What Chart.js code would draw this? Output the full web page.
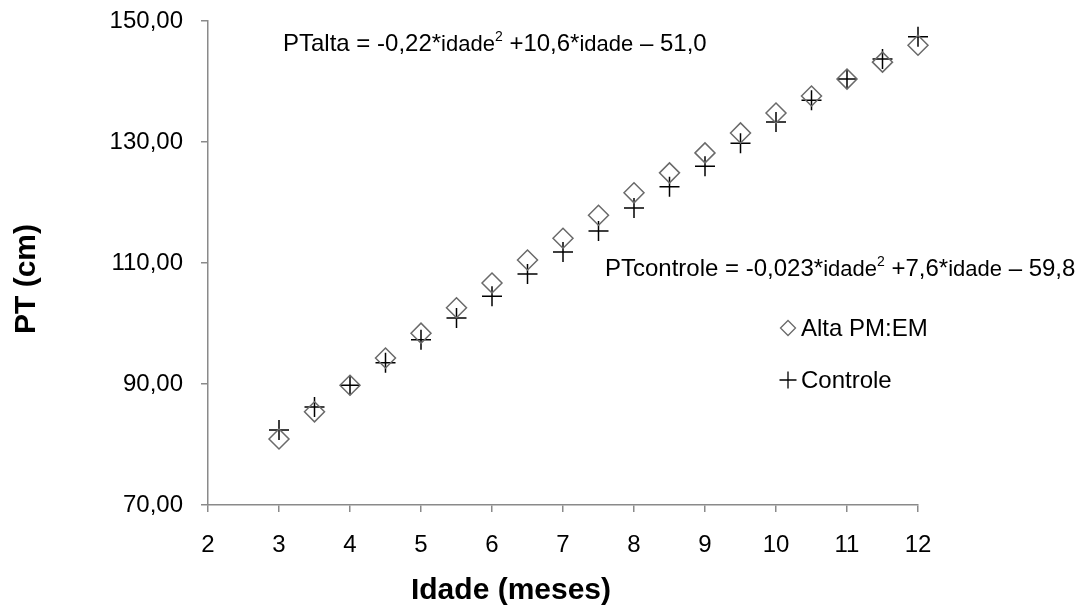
<!DOCTYPE html>
<html>
<head>
<meta charset="utf-8">
<script src="https://cdn.jsdelivr.net/npm/chart.js@4"></script>
<style>
  html, body { margin: 0; padding: 0; background: #fff; }
  #wrap { width: 1088px; height: 614px; }
</style>
</head>
<body>
<div id="wrap"><canvas id="chart" width="1088" height="614"></canvas></div>
<script>
// Idade (meses) e perímetro torácico (cm) por grupo
const IDADES = [3, 3.5, 4, 4.5, 5, 5.5, 6, 6.5, 7, 7.5, 8, 8.5, 9, 9.5, 10, 10.5, 11, 11.5, 12];
const PT_ALTA = [80.9, 85.4, 89.8, 94.3, 98.4, 102.6, 106.7, 110.5, 114.1, 117.9, 121.6, 124.9, 128.2, 131.5, 134.8, 137.6, 140.4, 143.2, 146.0];
const PT_CONTROLE = [82.4, 86.2, 89.8, 93.5, 97.3, 100.9, 104.5, 108.2, 111.8, 115.3, 119.1, 122.6, 126.0, 129.8, 133.3, 136.9, 140.4, 143.7, 147.4];

const SERIES_LABELS = ['Alta PM:EM', 'Controle'];
const X_TICKS = { min: 2, max: 12, step: 1 };
const Y_TICKS = { min: 70, max: 150, step: 20 };

const FONT = "'Liberation Sans', Arial, sans-serif";
const AXIS_GRAY = '#8a8a8a';

// regression equations, drawn as rich text pieces
const EQ_ALTA = [
  ['PTalta = -0,22*', 24], ['idade', 22], ['2', 14, -10], [' +10,6*', 24], ['idade', 22], [' \u2013 51,0', 24]
];
const EQ_CONTROLE = [
  ['PTcontrole = -0,023*', 24], ['idade', 22], ['2', 14, -10], [' +7,6*', 24], ['idade', 22], [' \u2013 59,8', 24]
];

function drawRich(ctx, x, y, parts) {
  let cx = x;
  for (const [txt, size, dy] of parts) {
    ctx.font = `${size}px ${FONT}`;
    ctx.fillText(txt, cx, y + (dy || 0));
    cx += ctx.measureText(txt).width;
  }
}

const decorations = {
  id: 'decorations',
  afterDraw(chart) {
    const { ctx } = chart;
    ctx.save();
    ctx.fillStyle = '#000';
    ctx.textBaseline = 'alphabetic';
    ctx.textAlign = 'left';

    drawRich(ctx, 283, 51, EQ_ALTA);
    drawRich(ctx, 605, 276, EQ_CONTROLE);

    // legend
    const rows = [
      { y: 328, ds: chart.data.datasets[0], r: 7.5 },
      { y: 380, ds: chart.data.datasets[1], r: 8.5 },
    ];
    rows.forEach(row => {
      ctx.strokeStyle = row.ds.pointBorderColor;
      ctx.fillStyle = 'rgba(0,0,0,0)';
      ctx.lineWidth = 1.3;
      Chart.helpers.drawPoint(ctx, { pointStyle: row.ds.pointStyle, radius: row.r, borderWidth: 1.3, rotation: 0 }, 788, row.y);
      ctx.fillStyle = '#000';
      ctx.font = `24px ${FONT}`;
      ctx.textBaseline = 'middle';
      ctx.fillText(row.ds.label, 801, row.y + 1);
    });

    // axis titles
    ctx.font = `bold 30px ${FONT}`;
    ctx.textAlign = 'center';
    ctx.textBaseline = 'middle';
    ctx.fillText('Idade (meses)', 511, 591);
    ctx.translate(27, 279);
    ctx.rotate(-Math.PI / 2);
    ctx.fillText('PT (cm)', 0, 0);
    ctx.restore();
  }
};

const commaFmt = v => v.toFixed(2).replace('.', ',');

new Chart(document.getElementById('chart'), {
  type: 'scatter',
  data: {
    datasets: [
      {
        label: SERIES_LABELS[0],
        data: IDADES.map((x, i) => ({ x, y: PT_ALTA[i] })),
        pointStyle: 'rectRot',
        pointRadius: 10,
        pointBorderWidth: 1.5,
        pointBorderColor: '#6a6a6a',
        pointBackgroundColor: 'rgba(0,0,0,0)',
        clip: false,
      },
      {
        label: SERIES_LABELS[1],
        data: IDADES.map((x, i) => ({ x, y: PT_CONTROLE[i] })),
        pointStyle: 'cross',
        pointRadius: 10,
        pointBorderWidth: 1.5,
        pointBorderColor: '#000',
        pointBackgroundColor: '#000',
        clip: false,
      }
    ]
  },
  options: {
    responsive: false,
    animation: false,
    layout: { padding: { top: 21, right: 170, left: 0, bottom: 0 } },
    plugins: {
      legend: { display: false },
      tooltip: { enabled: false },
      title: { display: false },
    },
    scales: {
      x: {
        type: 'linear',
        min: X_TICKS.min,
        max: X_TICKS.max,
        ticks: {
          stepSize: X_TICKS.step,
          color: '#000',
          padding: 19,
          font: { family: FONT, size: 24 },
        },
        grid: { drawOnChartArea: false, tickLength: 7, color: AXIS_GRAY, lineWidth: 1.5 },
        border: { color: AXIS_GRAY, width: 1.5 },
        afterFit(scale) {
          scale.height = 109;
          scale.paddingLeft = 0;
          scale.paddingRight = 0;
        }
      },
      y: {
        min: Y_TICKS.min,
        max: Y_TICKS.max,
        ticks: {
          stepSize: Y_TICKS.step,
          color: '#000',
          padding: 18,
          callback: commaFmt,
          font: { family: FONT, size: 24 },
        },
        grid: { drawOnChartArea: false, tickLength: 7, color: AXIS_GRAY, lineWidth: 1.5 },
        border: { color: AXIS_GRAY, width: 1.5 },
        afterFit(scale) {
          scale.width = 208;
          scale.paddingTop = 0;
          scale.paddingBottom = 0;
        }
      }
    }
  },
  plugins: [decorations]
});
</script>
</body>
</html>
